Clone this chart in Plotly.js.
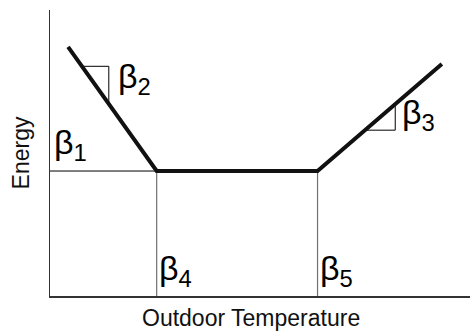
<!DOCTYPE html>
<html>
<head>
<meta charset="utf-8">
<script src="https://cdn.plot.ly/plotly-3.0.1.min.js"></script>
<style>
  html, body { margin: 0; padding: 0; background: #fff; }
  #chart { width: 471px; height: 332px; }
</style>
</head>
<body>
<div id="chart"></div>
<script>
// change-point model, arbitrary units (0-100 on both axes)
var tempX = [4.3, 25.4, 63.7, 93.3];
var energyY = [87.1, 43.7, 43.7, 81.1];

// slope triangles: x start / end along the heating and cooling legs
var heatTriX = [7.6, 14.0];
var coolTriX = [75.0, 82.2];

var labelText = ['β<sub>1</sub>', 'β<sub>2</sub>', 'β<sub>3</sub>', 'β<sub>4</sub>', 'β<sub>5</sub>'];
var labelX = [0.5, 15.6, 83.4, 25.4, 63.9];
var labelY = [53.0, 76.0, 63.5, 9.0, 9.0];

// energy on the model line at a given temperature
function model(x) {
  for (var i = 0; i < tempX.length - 1; i++) {
    if (x >= tempX[i] && x <= tempX[i + 1]) {
      var f = (x - tempX[i]) / (tempX[i + 1] - tempX[i]);
      return energyY[i] + f * (energyY[i + 1] - energyY[i]);
    }
  }
  return null;
}

function triangle(xs) {
  var y0 = model(xs[0]);
  return {
    x: [xs[0], xs[1], xs[1]],
    y: [y0, y0, model(xs[1])],
    type: 'scatter',
    mode: 'lines',
    line: {color: '#000', width: 1},
    hoverinfo: 'skip'
  };
}

var base = energyY[1];

var baseLine = {
  x: [0, tempX[1]],
  y: [base, base],
  type: 'scatter',
  mode: 'lines',
  line: {color: '#000', width: 1},
  hoverinfo: 'skip'
};

var heatPoint = {
  x: [tempX[1], tempX[1]],
  y: [0, base],
  type: 'scatter',
  mode: 'lines',
  line: {color: '#707070', width: 1.2},
  hoverinfo: 'skip'
};

var coolPoint = {
  x: [tempX[2], tempX[2]],
  y: [0, energyY[2]],
  type: 'scatter',
  mode: 'lines',
  line: {color: '#707070', width: 1.2},
  hoverinfo: 'skip'
};

var modelLine = {
  x: tempX,
  y: energyY,
  type: 'scatter',
  mode: 'lines',
  line: {color: '#111', width: 4},
  hoverinfo: 'skip'
};

var annotations = [];
for (var i = 0; i < labelText.length; i++) {
  annotations.push({
    x: labelX[i], y: labelY[i],
    xref: 'x', yref: 'y',
    text: labelText[i],
    showarrow: false,
    xanchor: 'left', yanchor: 'middle',
    font: {size: 34, color: '#000'}
  });
}

// x title placed by hand, slightly left of the axis centre as in the original
annotations.push({
  x: 0.478, y: 0,
  xref: 'paper', yref: 'paper',
  yshift: -7,
  text: 'Outdoor Temperature',
  showarrow: false,
  xanchor: 'center', yanchor: 'top',
  font: {size: 23, color: '#111'}
});

var layout = {
  width: 471,
  height: 332,
  margin: {l: 50, r: 1, t: 10, b: 36},
  paper_bgcolor: '#fff',
  plot_bgcolor: '#fff',
  showlegend: false,
  font: {family: 'Liberation Sans, Arial, sans-serif', color: '#111'},
  xaxis: {
    range: [0, 100],
    showline: true, linecolor: '#333', linewidth: 1.5,
    showgrid: false, zeroline: false,
    showticklabels: false, ticks: ''
  },
  yaxis: {
    range: [0, 100],
    showline: true, linecolor: '#333', linewidth: 1.5,
    showgrid: false, zeroline: false,
    showticklabels: false, ticks: '',
    title: {text: 'Energy', font: {size: 23, color: '#111'}, standoff: 12}
  },
  annotations: annotations
};

var data = [baseLine, heatPoint, coolPoint, triangle(heatTriX), triangle(coolTriX), modelLine];

Plotly.newPlot('chart', data, layout, {staticPlot: true, displayModeBar: false});
</script>
</body>
</html>
